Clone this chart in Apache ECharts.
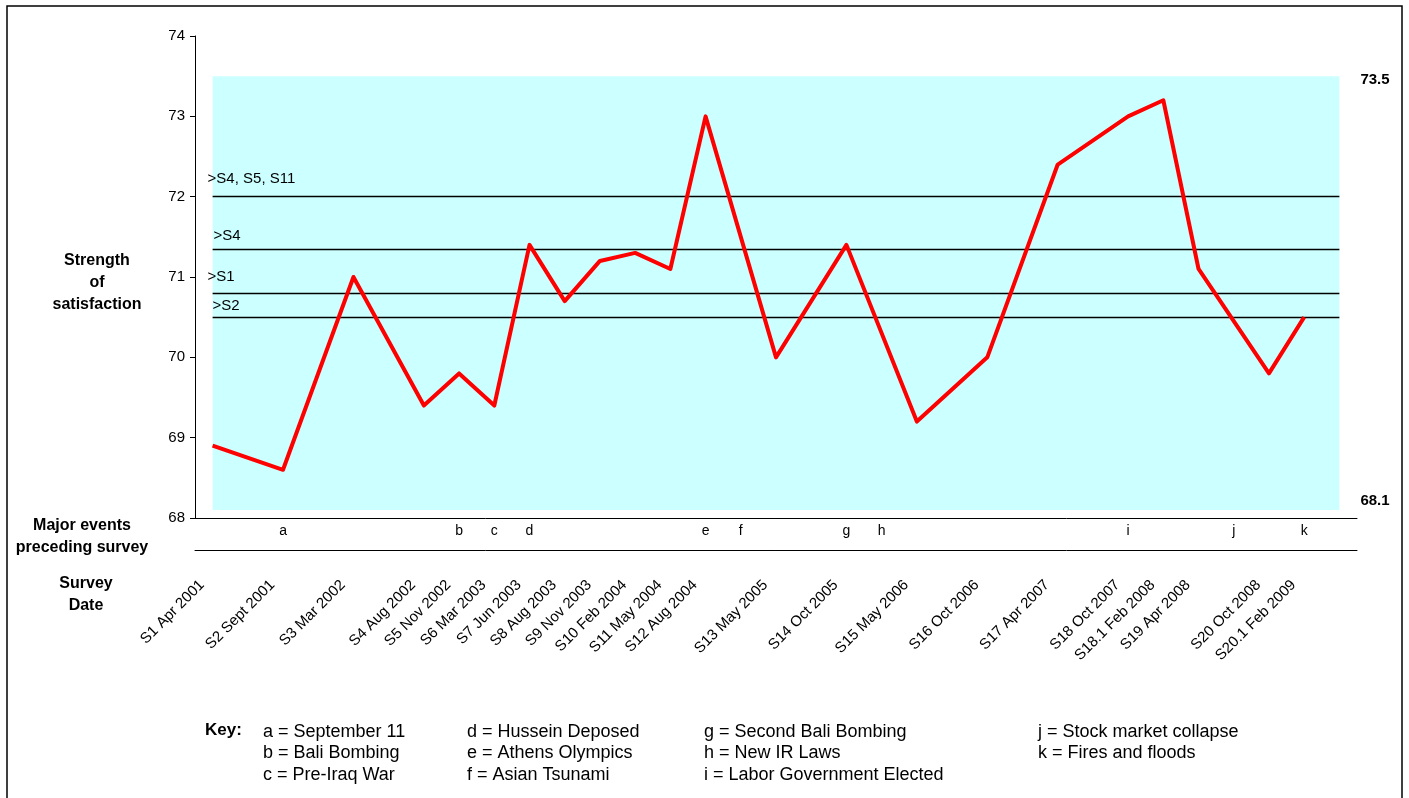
<!DOCTYPE html>
<html>
<head>
<meta charset="utf-8">
<title>Strength of satisfaction</title>
<script src="https://cdn.jsdelivr.net/npm/echarts@6/dist/echarts.min.js"></script>
<style>
  html, body { margin: 0; padding: 0; background: #fff; }
  #chart { width: 1409px; height: 798px; }
</style>
</head>
<body>
<div id="chart"></div>
<script>
// survey dates (empty slots keep the time spacing)
var surveyDates = [
  'S1 Apr 2001', '', 'S2 Sept 2001', '', 'S3 Mar 2002', '',
  'S4 Aug 2002', 'S5 Nov 2002', 'S6 Mar 2003', 'S7 Jun 2003', 'S8 Aug 2003',
  'S9 Nov 2003', 'S10 Feb 2004', 'S11 May 2004', 'S12 Aug 2004', '',
  'S13 May 2005', '', 'S14 Oct 2005', '', 'S15 May 2006', '',
  'S16 Oct 2006', '', 'S17 Apr 2007', '', 'S18 Oct 2007', 'S18.1 Feb 2008',
  'S19 Apr 2008', '', 'S20 Oct 2008', 'S20.1 Feb 2009', ''
];
// major events preceding survey
var eventLetters = [
  '', '', 'a', '', '', '', '', 'b', 'c', 'd', '', '', '', '', 'e', 'f',
  '', '', 'g', 'h', '', '', '', '', '', '', 'i', '', '', 'j', '', 'k', ''
];
// strength of satisfaction
var satisfaction = [
  68.9, null, 68.6, null, 71.0, null, 69.4, 69.8, 69.4, 71.4, 70.7,
  71.2, 71.3, 71.1, 73.0, null, 70.0, null, 71.4, null, 69.2, null,
  70.0, null, 72.4, null, 73.0, 73.2, 71.1, null, 69.8, 70.5, null
];
// reference levels
var levelValues = [72, 71.35, 70.8, 70.5];
var levelNames = ['>S4, S5, S11', '>S4', '>S1', '>S2'];
var bandTop = 73.5;
var bandBottom = 68.1;
var yTicks = [68, 69, 70, 71, 72, 73, 74];
var keyColumns = [
  ['a = September 11', 'b = Bali Bombing', 'c = Pre-Iraq War'],
  ['d = Hussein Deposed', 'e = Athens Olympics', 'f = Asian Tsunami'],
  ['g = Second Bali Bombing', 'h = New IR Laws', 'i = Labor Government Elected'],
  ['j = Stock market collapse', 'k = Fires and floods']
];

var FONT = 'Arial, "Liberation Sans", sans-serif';
var chart = echarts.init(document.getElementById('chart'));

var vals = satisfaction.filter(function (v) { return v != null; });
var maxV = Math.max.apply(null, vals);
var minV = Math.min.apply(null, vals);
var curV = vals[vals.length - 1];
var lastIdx = surveyDates.length - 1;

// label nudges for the level lines
var levelOffsets = [[-5, -18], [1, -13], [-5, -16], [0, -11]];

var keyX = [263, 467, 704, 1038];
var graphics = [
  { type: 'rect', shape: { x: 7, y: 6, width: 1395, height: 900 },
    style: { fill: 'none', stroke: '#000', lineWidth: 1.5 }, silent: true },
  { type: 'text', x: 97, y: 250,
    style: { text: 'Strength\nof\nsatisfaction', font: 'bold 16px ' + FONT, fill: '#000',
      align: 'center', lineHeight: 22 } },
  { type: 'text', x: 82, y: 515,
    style: { text: 'Major events\npreceding survey', font: 'bold 16px ' + FONT, fill: '#000',
      align: 'center', lineHeight: 22 } },
  { type: 'text', x: 86, y: 573,
    style: { text: 'Survey\nDate', font: 'bold 16px ' + FONT, fill: '#000',
      align: 'center', lineHeight: 22 } },
  { type: 'text', x: 329, y: 438,
    style: { text: 'Maximum = ' + maxV.toFixed(1) + '\nCurrent = ' + curV.toFixed(1) +
      '\nMinimum = ' + minV.toFixed(1), font: '15px ' + FONT, fill: '#000', lineHeight: 21.5 } },
  { type: 'text', x: 205, y: 722,
    style: { text: 'Key:', font: 'bold 17px ' + FONT, fill: '#000' } }
];
keyColumns.forEach(function (col, i) {
  graphics.push({ type: 'text', x: keyX[i], y: 721,
    style: { text: col.join('\n'), font: '18px ' + FONT, fill: '#000', lineHeight: 21.5 } });
});

var option = {
  animation: false,
  backgroundColor: '#fff',
  grid: { left: 195, right: 52, top: 36, bottom: 280 },
  xAxis: [{
    type: 'category',
    data: surveyDates,
    boundaryGap: true,
    axisLine: { lineStyle: { color: '#000', width: 1 } },
    axisTick: { interval: 0, length: 4, lineStyle: { color: '#000' } },
    axisLabel: {
      interval: 0, margin: 6, fontSize: 14, fontFamily: FONT, color: '#000',
      formatter: function (v, i) { return eventLetters[i]; }
    },
    splitLine: { show: false }
  }, {
    type: 'category',
    data: surveyDates,
    position: 'bottom',
    offset: 32,
    axisLine: { lineStyle: { color: '#000', width: 1 } },
    axisTick: { show: false },
    axisLabel: {
      interval: 0, rotate: 45, margin: 22, padding: [0, 15, 0, 0],
      fontSize: 15, fontFamily: FONT, color: '#000'
    },
    splitLine: { show: false }
  }],
  yAxis: {
    type: 'value',
    min: yTicks[0],
    max: yTicks[yTicks.length - 1],
    interval: 1,
    axisLine: { show: true, lineStyle: { color: '#000', width: 1 } },
    axisTick: { show: true, length: 5, lineStyle: { color: '#000' } },
    axisLabel: { fontSize: 15, fontFamily: FONT, color: '#000', margin: 10 },
    splitLine: { show: false }
  },
  graphic: graphics,
  series: [{
    // background band, level lines and their labels
    type: 'line',
    xAxisIndex: 0,
    data: [],
    z: 1,
    silent: true,
    markArea: {
      silent: true,
      itemStyle: { color: '#CCFFFF' },
      data: [[{ coord: [0, bandTop] }, { coord: [lastIdx, bandBottom] }]]
    },
    markLine: {
      silent: true,
      symbol: 'none',
      label: { show: false },
      lineStyle: { color: '#000', width: 1.3, type: 'solid' },
      data: levelValues.map(function (v) {
        return [{ coord: [0, v] }, { coord: [lastIdx, v] }];
      })
    },
    markPoint: {
      silent: true,
      symbol: 'circle',
      symbolSize: 0,
      label: { show: true, position: 'right', distance: 0, color: '#000',
        fontSize: 15, fontFamily: FONT },
      data: levelValues.map(function (v, i) {
        return { coord: [0, v], label: { formatter: levelNames[i], offset: levelOffsets[i] } };
      }).concat([
        { coord: [lastIdx, bandTop], label: { formatter: String(bandTop), fontWeight: 'bold',
          distance: 21, offset: [0, 4] } },
        { coord: [lastIdx, bandBottom], label: { formatter: String(bandBottom), fontWeight: 'bold',
          distance: 21, offset: [0, -9] } }
      ])
    }
  }, {
    name: 'Strength of satisfaction',
    type: 'line',
    xAxisIndex: 0,
    data: satisfaction,
    connectNulls: true,
    showSymbol: false,
    symbol: 'none',
    z: 5,
    lineStyle: { color: '#FF0000', width: 4, join: 'round' }
  }]
};

chart.setOption(option);
</script>
</body>
</html>
